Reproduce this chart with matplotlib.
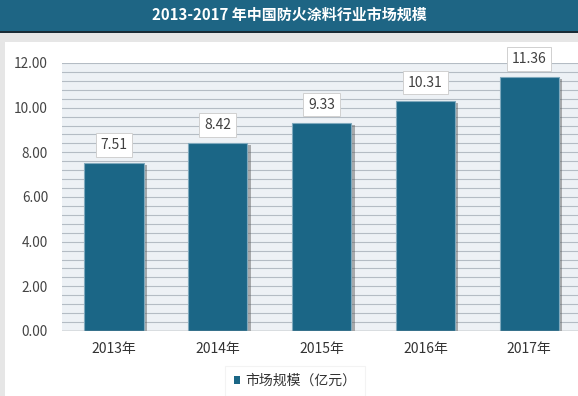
import matplotlib
matplotlib.use("Agg")
import matplotlib.pyplot as plt
import matplotlib.patches as mpatches
import matplotlib.patheffects as pe
import numpy as np

plt.rcParams['font.family'] = ['Noto Sans CJK SC', 'DejaVu Sans']

categories = ['2013年', '2014年', '2015年', '2016年', '2017年']
values = [7.51, 8.42, 9.33, 10.31, 11.36]
value_labels = ['7.51', '8.42', '9.33', '10.31', '11.36']
yticks = [0, 2, 4, 6, 8, 10, 12]
ytick_labels = ['0.00', '2.00', '4.00', '6.00', '8.00', '10.00', '12.00']
title = '2013-2017 年中国防火涂料行业市场规模'
legend_label = '市场规模（亿元）'

W, H = 578, 396
fig = plt.figure(figsize=(W / 100, H / 100), dpi=100)
fig.patch.set_facecolor('#e6e6e6')

# white panel
fig.patches.append(mpatches.Rectangle((5 / W, 0), 1, (H - 42) / H, transform=fig.transFigure,
                                      facecolor='white', edgecolor='none', zorder=0))
# title banner
fig.patches.append(mpatches.Rectangle((0, (H - 31) / H), 1, 31 / H, transform=fig.transFigure,
                                      facecolor='#1e6584', edgecolor='none', zorder=1))
fig.patches.append(mpatches.Rectangle((0, (H - 33) / H), 1, 2 / H, transform=fig.transFigure,
                                      facecolor='#1a2c36', edgecolor='none', zorder=1))
fig.text(0.5, (H - 15) / H, title, color='white', fontsize=10.8, fontweight='bold',
         ha='center', va='center', zorder=2)

ax = fig.add_axes([62 / W, 65 / H, (W - 62) / W, 268 / H])
ax.set_zorder(5)
ax.set_facecolor('#edf1f5')
x = np.arange(len(categories))
bars = ax.bar(x, values, width=0.57, color='#1b6686', edgecolor='#7fa9bd', linewidth=0.8,
              zorder=3)
for b in bars:
    b.set_path_effects([pe.SimplePatchShadow(offset=(2.5, -1.5), shadow_rgbFace='#555555', alpha=0.45),
                        pe.Normal()])

for xi, v, lab in zip(x, values, value_labels):
    ax.annotate(lab, (xi, v), xytext=(0, 8), textcoords='offset points', ha='center', va='bottom',
                fontsize=10, color='#404040', zorder=5,
                bbox=dict(boxstyle='square,pad=0.35', facecolor='white', edgecolor='#d0d0d0', linewidth=0.7))

ax.set_xlim(-0.5, 4.47)
ax.set_ylim(0, 12)
ax.set_yticks(yticks)
ax.set_yticklabels(ytick_labels, fontsize=9.8, color='#444444')
ax.set_xticks(x)
ax.set_xticklabels(categories, fontsize=10, color='#333333')
ax.set_yticks(np.arange(0, 12.01, 0.4), minor=True)
ax.grid(True, axis='y', which='both', color='#b4bcc4', linewidth=0.8, zorder=1)
ax.set_axisbelow(True)
ax.tick_params(axis='both', which='both', length=0, pad=8)
ax.tick_params(axis='y', pad=10)
for s in ax.spines.values():
    s.set_visible(False)
ax.axhline(0, color='#999999', linewidth=1, zorder=4)

handle = mpatches.Patch(facecolor='#1b6686', edgecolor='none', label=legend_label)
leg = ax.legend(handles=[handle], loc='center', bbox_to_anchor=(295 / W, 15 / H),
                bbox_transform=fig.transFigure,
                frameon=True, fontsize=10, handlelength=0.45, handleheight=0.45, handletextpad=0.4,
                borderpad=0.6, fancybox=False, shadow=False)
leg.get_frame().set_edgecolor('#f0f0f0')
leg.get_frame().set_linewidth(0.8)
for t in leg.get_texts():
    t.set_color('#333333')

fig.savefig('out.png', dpi=100)
